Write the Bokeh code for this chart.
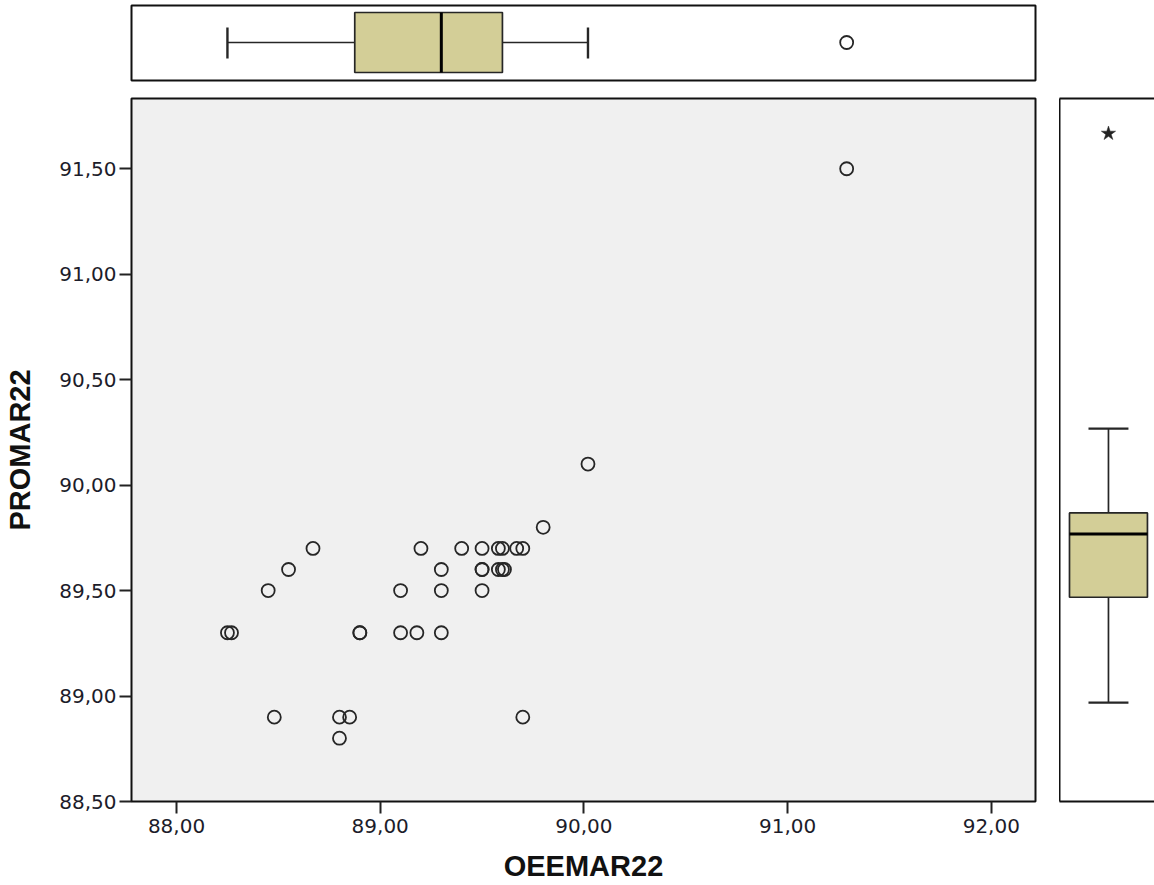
from bokeh.plotting import figure
from bokeh.layouts import column, row
from bokeh.models import Range1d, FixedTicker, LinearAxis, CustomJSTickFormatter, ColumnDataSource
from bokeh.embed import file_html
from bokeh.resources import INLINE

# Paired observations: OEE (x) against PRO (y), March 2022
oee_mar22 = [88.25, 88.27, 88.45, 88.48, 88.55, 88.67, 88.80, 88.80, 88.85, 88.90,
             88.90, 89.10, 89.10, 89.18, 89.20, 89.30, 89.30, 89.30, 89.40, 89.50,
             89.50, 89.50, 89.50, 89.58, 89.58, 89.60, 89.60, 89.61, 89.67, 89.70,
             89.70, 89.80, 90.02, 91.29]
pro_mar22 = [89.30, 89.30, 89.50, 88.90, 89.60, 89.70, 88.90, 88.80, 88.90, 89.30,
             89.30, 89.50, 89.30, 89.30, 89.70, 89.60, 89.50, 89.30, 89.70, 89.70,
             89.60, 89.60, 89.50, 89.70, 89.60, 89.70, 89.60, 89.60, 89.70, 89.70,
             88.90, 89.80, 90.10, 91.50]

# Box-plot summaries: lower whisker, Q1, median, Q3, upper whisker
oee_box = [88.25, 88.875, 89.30, 89.60, 90.02]
oee_outliers = [91.29]
pro_box = [88.80, 89.30, 89.60, 89.70, 90.10]
pro_extremes = [91.50]

x_ticks = [88, 89, 90, 91, 92]
y_ticks = [88.5, 89.0, 89.5, 90.0, 90.5, 91.0, 91.5]

BOX_FILL = "#d3ce97"
INK = "#262626"
comma_fmt = CustomJSTickFormatter(code="return tick.toFixed(2).replace('.', ',');")

x_rng = Range1d(87.779, 92.217)

# ---------------- marginal box plot for OEEMAR22 (top) ----------------
top = figure(frame_width=904, frame_height=75, x_range=x_rng, y_range=Range1d(0, 1),
             min_border_left=131, min_border_right=119, min_border_top=5, min_border_bottom=10,
             x_axis_location=None, y_axis_location=None, toolbar_location=None,
             output_backend="svg", background_fill_color="white", border_fill_color="white")
top.grid.visible = False
top.outline_line_color = "#111111"
top.outline_line_width = 2
lo, q1, med, q3, hi = oee_box
top.segment(x0=[lo, q3], y0=[0.507, 0.507], x1=[q1, hi], y1=[0.507, 0.507],
            line_color=INK, line_width=1.7)
top.segment(x0=[lo, hi], y0=[0.293, 0.293], x1=[lo, hi], y1=[0.707, 0.707],
            line_color=INK, line_width=2.4)
top.quad(left=[q1], right=[q3], bottom=[0.107], top=[0.907],
         fill_color=BOX_FILL, line_color=INK, line_width=1.7)
top.segment(x0=[med], y0=[0.107], x1=[med], y1=[0.907], line_color="black", line_width=3)
top.scatter(x=oee_outliers, y=[0.507] * len(oee_outliers), marker="circle", size=13,
            fill_color=None, line_color=INK, line_width=1.8)

# ---------------- scatter plot ----------------
main = figure(frame_width=904, frame_height=703, x_range=x_rng, y_range=Range1d(88.5, 91.833),
              min_border_left=131, min_border_right=24, min_border_top=8, min_border_bottom=10,
              toolbar_location=None, output_backend="svg",
              background_fill_color="#f0f0f0", border_fill_color="white")
main.grid.visible = False
main.outline_line_color = "#111111"
main.outline_line_width = 2
main.xaxis.ticker = FixedTicker(ticks=x_ticks)
main.yaxis.ticker = FixedTicker(ticks=y_ticks)
for ax in (main.xaxis[0], main.yaxis[0]):
    ax.formatter = comma_fmt
    ax.axis_line_color = None
    ax.major_tick_out = 12
    ax.major_tick_in = 0
    ax.major_tick_line_color = "#222222"
    ax.major_tick_line_width = 2
    ax.minor_tick_line_color = None
    ax.major_label_text_font = "DejaVu Sans"
    ax.major_label_text_font_size = "20px"
    ax.major_label_text_color = "#1c1c2a"
    ax.axis_label_text_font = "Liberation Sans"
    ax.axis_label_text_font_size = "29px"
    ax.axis_label_text_font_style = "bold"
    ax.axis_label_text_color = "#111111"
main.xaxis.axis_label = "OEEMAR22"
main.yaxis.axis_label = "PROMAR22"
main.xaxis.major_label_standoff = 5
main.yaxis.major_label_standoff = 3
main.xaxis.axis_label_standoff = 14
main.yaxis.axis_label_standoff = 20

src = ColumnDataSource(data=dict(oee=oee_mar22, pro=pro_mar22))
main.scatter(x="oee", y="pro", source=src, marker="circle", size=13,
             fill_color=None, line_color=INK, line_width=1.8)

# ---------------- marginal box plot for PROMAR22 (right) ----------------
right = figure(frame_width=95, frame_height=703, x_range=Range1d(0, 0.97),
               y_range=Range1d(88.331, 91.666),
               min_border_left=0, min_border_right=0, min_border_top=8, min_border_bottom=10,
               x_axis_location=None, y_axis_location=None, toolbar_location=None,
               output_backend="svg", background_fill_color="white", border_fill_color="white")
right.grid.visible = False
right.outline_line_color = None
for side in ("left", "above", "below"):
    edge = LinearAxis(ticker=FixedTicker(ticks=[]), major_tick_out=0, major_tick_in=0,
                      major_label_standoff=0, axis_line_color="#111111", axis_line_width=2)
    right.add_layout(edge, side)
plo, pq1, pmed, pq3, phi = pro_box
right.segment(x0=[0.5, 0.5], y0=[plo, pq3], x1=[0.5, 0.5], y1=[pq1, phi],
              line_color=INK, line_width=1.7)
right.segment(x0=[0.296, 0.296], y0=[plo, phi], x1=[0.704, 0.704], y1=[plo, phi],
              line_color=INK, line_width=2.4)
right.quad(left=[0.102], right=[0.898], bottom=[pq1], top=[pq3],
           fill_color=BOX_FILL, line_color=INK, line_width=1.7)
right.segment(x0=[0.102], y0=[pmed], x1=[0.898], y1=[pmed], line_color="black", line_width=3)
right.scatter(x=[0.5] * len(pro_extremes), y=pro_extremes, marker="star", size=15,
              fill_color="#222222", line_color="#222222", line_width=0.5)

layout = column(top, row(main, right))
open("out.html", "w").write(file_html(layout, INLINE))
